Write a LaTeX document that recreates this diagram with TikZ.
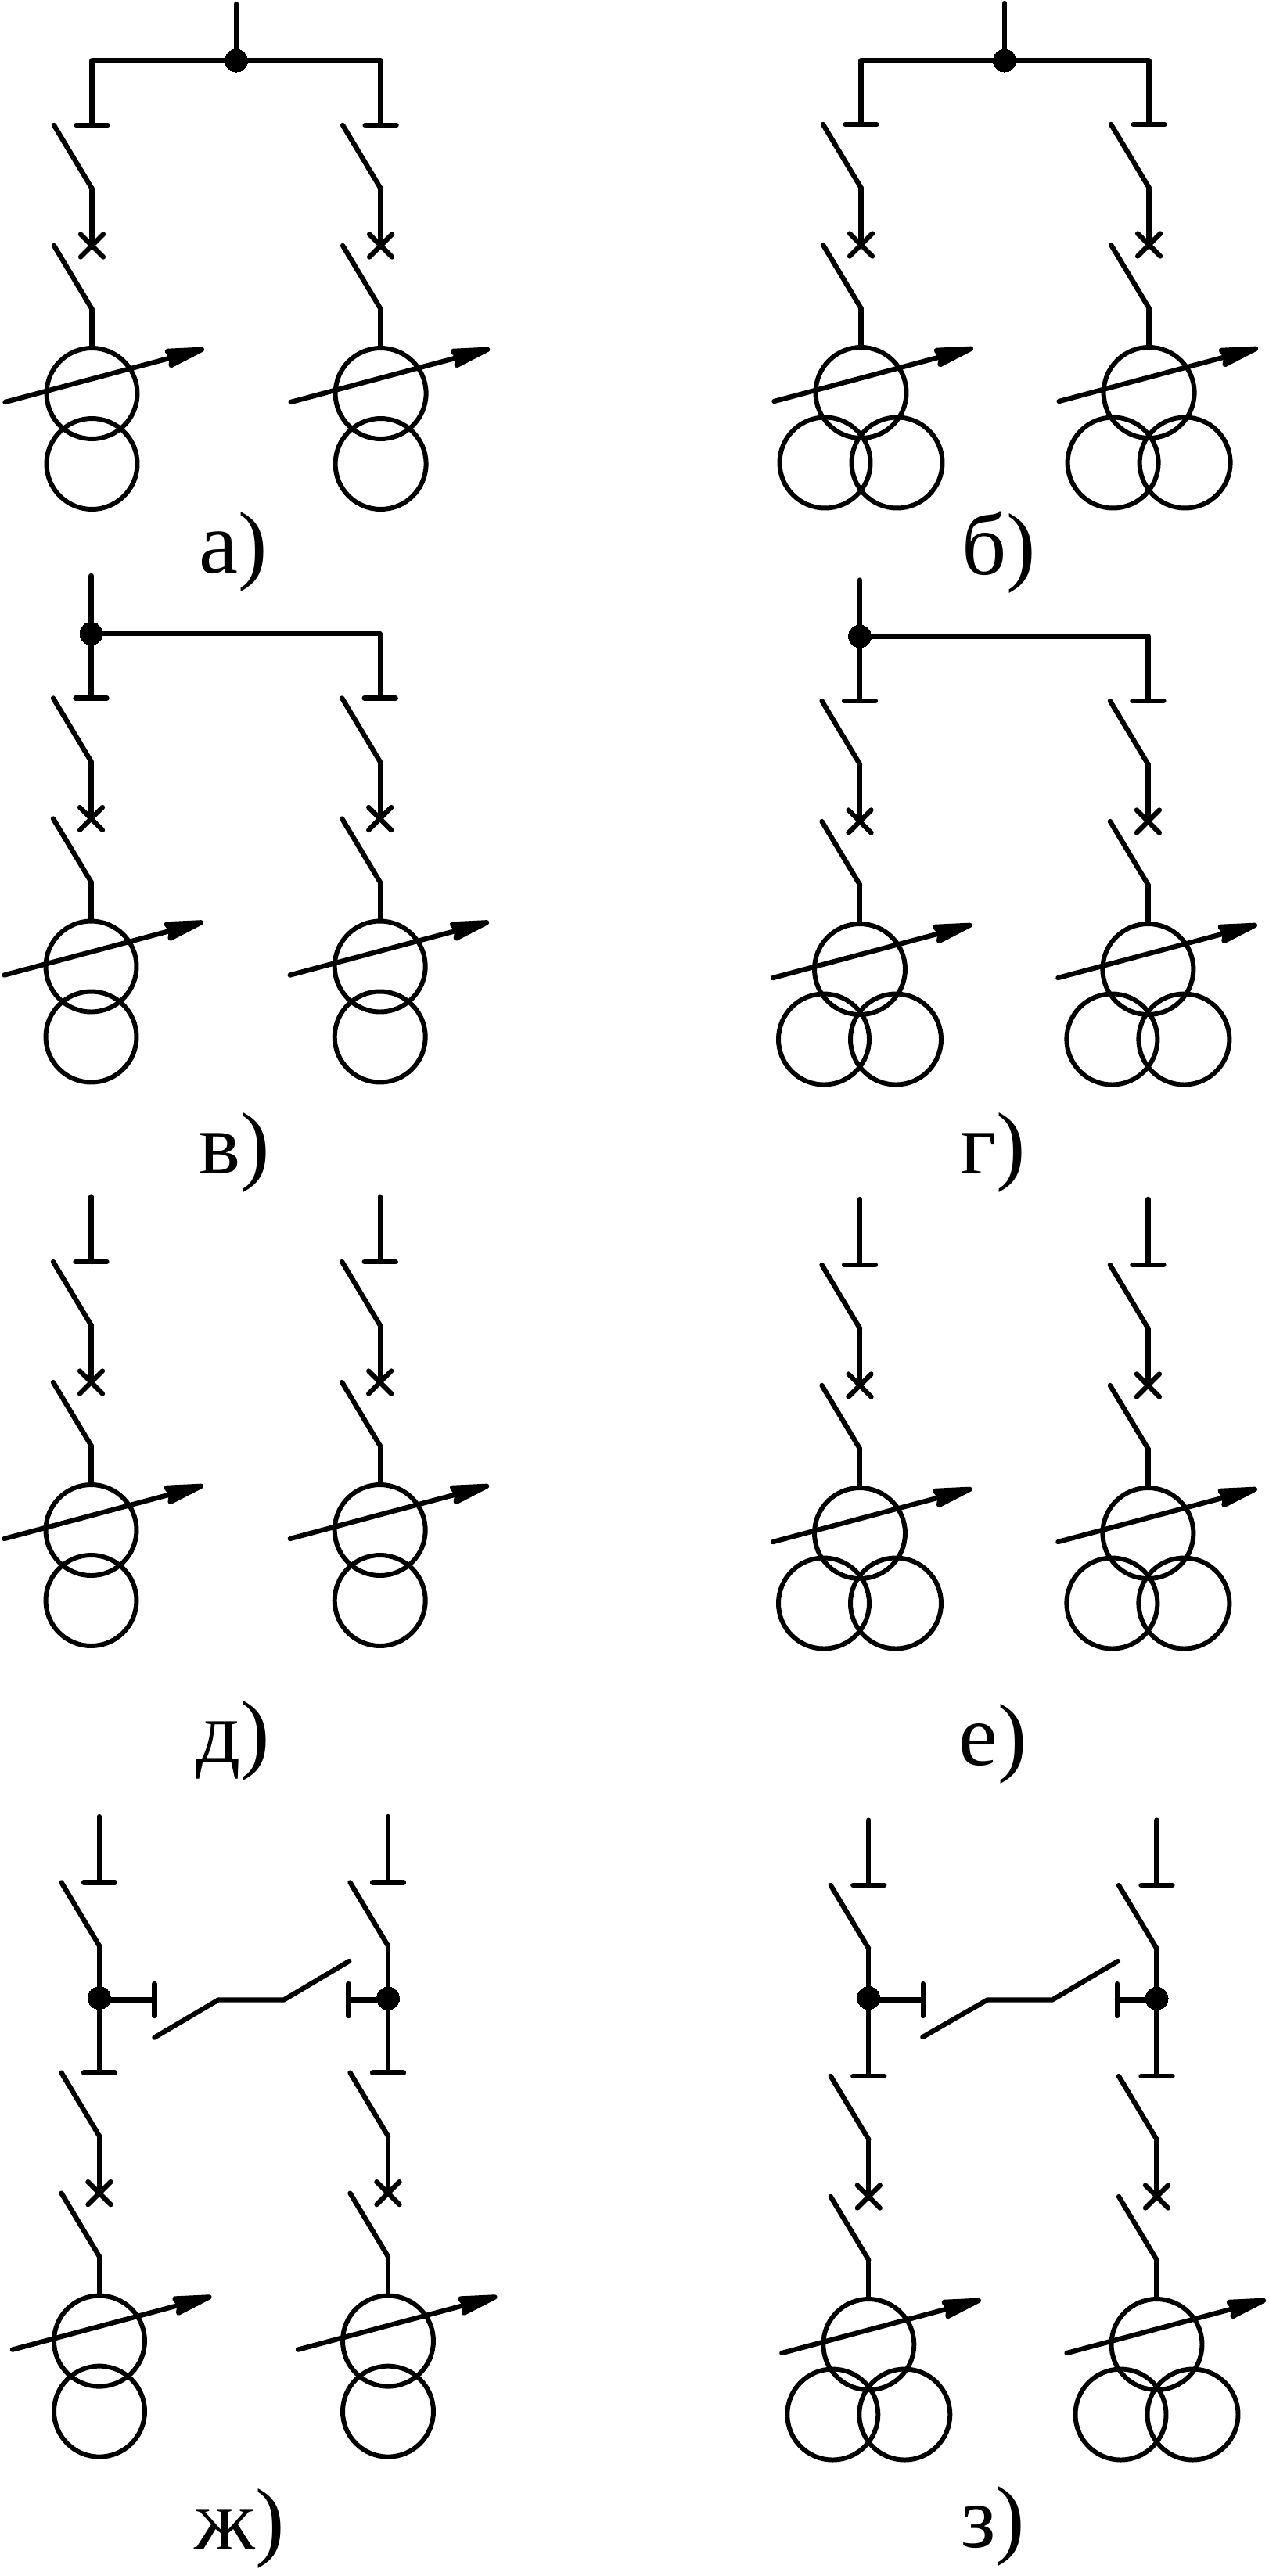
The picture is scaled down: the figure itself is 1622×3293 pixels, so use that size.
\documentclass[tikz,border=0pt]{standalone}
\usepackage{fontspec}
\setmainfont{Liberation Serif}
\usetikzlibrary{arrows.meta,shapes.misc}

\tikzset{
	wire/.style={line width=3.6pt,line cap=round,line join=round},
	winding/.style={circle,draw,line width=3.4pt,minimum size=2.32cm,inner sep=0pt},
	junction/.style={circle,fill,draw,line width=0pt,minimum size=0.58cm,inner sep=0pt},
	breaker/.style={cross out,draw,line width=3.6pt,line cap=round,minimum size=0.58cm,inner sep=0pt,outer sep=0pt},
	regulator/.style={wire,-{Stealth[length=36pt,width=15pt,inset=3pt,round]}},
	sign/.style={anchor=base west,inner sep=0pt,font=\fontsize{64}{64}\selectfont}
}

% name, x, y
\newcommand{\Blade}[3]{
	\coordinate (#1o) at (#2-48.5,#3);
	\coordinate (#1h) at (#2,#3+81);
	\draw[wire] (#1o) -- (#1h);
}
\newcommand{\Stop}[3]{
	\coordinate (#1) at (#2,#3);
	\draw[wire] (#2-20,#3) -- (#2+20,#3);
}
% name, x, y of the stop, shift of the regulator arrow
\newcommand{\Bay}[4]{
	\Stop{#1}{#2}{#3}
	\Blade{#1a}{#2}{#3}
	\node[breaker] (#1q) at (#2,#3+154) {};
	\draw[wire] (#1ah) -- (#1q.center);
	\Blade{#1b}{#2}{#3+154}
	\node[winding] (#1t) at (#2,#3+343) {};
	\draw[wire] (#1bh) -- (#1t.north);
	\coordinate (#1from) at (#2-113+#4,#3+354);
	\coordinate (#1to) at (#2+141.5+#4,#3+286);
	\draw[regulator] (#1from) -- (#1to);
}
\newcommand{\BayTwo}[4]{
	\Bay{#1}{#2}{#3}{#4}
	\node[winding] (#1s) at (#2,#3+433) {};
}
\newcommand{\BayThree}[4]{
	\Bay{#1}{#2}{#3}{#4}
	\node[winding] (#1s) at (#2-46,#3+432.5) {};
	\node[winding] (#1r) at (#2+46,#3+432.5) {};
}
% name, x, y of the free end, node it runs to
\newcommand{\Feed}[4]{
	\coordinate (#1) at (#2,#3);
	\draw[wire] (#1) -- (#4);
}
% name, x, y of a sideways stop
\newcommand{\Side}[3]{
	\coordinate (#1) at (#2,#3);
	\draw[wire] (#2,#3-20.5) -- (#2,#3+20.5);
}

\begin{document}
\begin{tikzpicture}[x=0.02cm,y=-0.02cm]
	\useasboundingbox (0,0) rectangle (1622,3293);

	\BayTwo{aL}{117.5}{160}{2}
	\BayTwo{aR}{486.6}{160}{-2}
	\node[junction] (aJ) at (302,77.5) {};
	\Feed{aF}{302}{5}{aJ}
	\draw[wire] (aL) |- (aJ);
	\draw[wire] (aR) |- (aJ);
	\node[sign] (aT) at (254,732) {а)};

	\BayThree{bL}{1100.5}{159}{2}
	\BayThree{bR}{1468.6}{159}{-2}
	\node[junction] (bJ) at (1284,77.5) {};
	\Feed{bF}{1284}{4}{bJ}
	\draw[wire] (bL) |- (bJ);
	\draw[wire] (bR) |- (bJ);
	\node[sign] (bT) at (1229,734) {б)};

	\BayTwo{vL}{116.5}{892.5}{2}
	\BayTwo{vR}{485.7}{892.5}{-2}
	\node[junction] (vJ) at (116.5,810) {};
	\Feed{vF}{116.5}{736}{vJ}
	\draw[wire] (vL) -- (vJ);
	\draw[wire] (vR) |- (vJ);
	\node[sign] (vT) at (254,1500) {в)};

	\BayThree{gL}{1099}{896}{2}
	\BayThree{gR}{1467.4}{896}{-2}
	\node[junction] (gJ) at (1099,813.4) {};
	\Feed{gF}{1099}{741.5}{gJ}
	\draw[wire] (gL) -- (gJ);
	\draw[wire] (gR) |- (gJ);
	\node[sign] (gT) at (1227,1500.6) {г)};

	\BayTwo{dL}{116.5}{1613}{2}
	\BayTwo{dR}{485.7}{1613}{-2}
	\Feed{dFL}{116.5}{1529.6}{dL}
	\Feed{dFR}{485.7}{1529.6}{dR}
	\node[sign] (dT) at (250,2252) {д)};

	\BayThree{eL}{1099}{1617}{2}
	\BayThree{eR}{1467.4}{1617}{-2}
	\Feed{eFL}{1099}{1533}{eL}
	\Feed{eFR}{1467.4}{1533}{eR}
	\node[sign] (eT) at (1225,2256.6) {е)};

	\BayTwo{zL}{127}{2649.6}{2}
	\BayTwo{zR}{496}{2649.6}{-2}
	\Stop{zUL}{127}{2406.4}
	\Stop{zUR}{496}{2406.4}
	\Feed{zFL}{127}{2322}{zUL}
	\Feed{zFR}{496}{2322}{zUR}
	\Blade{zBL}{127}{2406.4}
	\Blade{zBR}{496}{2406.4}
	\draw[wire] (zBLh) -- (zL);
	\draw[wire] (zBRh) -- (zR);
	\node[junction] (zJL) at (127,2554) {};
	\node[junction] (zJR) at (496,2554.5) {};
	\Side{zSL}{197.4}{2556.5}
	\Side{zSR}{445.4}{2556.5}
	\draw[wire] (zSL) -- (zSL -| zJL);
	\draw[wire] (zSR) -- (zSR -| zJR);
	\coordinate (zC1) at (197.4,2604.6);
	\coordinate (zC2) at (279,2556.5);
	\coordinate (zC3) at (362.7,2556.5);
	\coordinate (zC4) at (446.3,2507);
	\draw[wire] (zC1) -- (zC2) -- (zC3) -- (zC4);
	\node[sign] (zT) at (248,3259.5) {ж)};

	\BayThree{hL}{1110.3}{2654}{2}
	\BayThree{hR}{1478.5}{2654}{-2}
	\Stop{hUL}{1110.3}{2410}
	\Stop{hUR}{1478.5}{2410}
	\Feed{hFL}{1110.3}{2326.6}{hUL}
	\Feed{hFR}{1478.5}{2326.6}{hUR}
	\Blade{hBL}{1110.3}{2410}
	\Blade{hBR}{1478.5}{2410}
	\draw[wire] (hBLh) -- (hL);
	\draw[wire] (hBRh) -- (hR);
	\node[junction] (hJL) at (1110.3,2554) {};
	\node[junction] (hJR) at (1478.5,2554.5) {};
	\Side{hSL}{1179.7}{2556.5}
	\Side{hSR}{1428}{2556.5}
	\draw[wire] (hSL) -- (hSL -| hJL);
	\draw[wire] (hSR) -- (hSR -| hJR);
	\coordinate (hC1) at (1179.3,2604);
	\coordinate (hC2) at (1262,2556.5);
	\coordinate (hC3) at (1345,2556.5);
	\coordinate (hC4) at (1429,2507);
	\draw[wire] (hC1) -- (hC2) -- (hC3) -- (hC4);
	\node[sign] (hT) at (1228,3256) {з)};
\end{tikzpicture}
\end{document}
